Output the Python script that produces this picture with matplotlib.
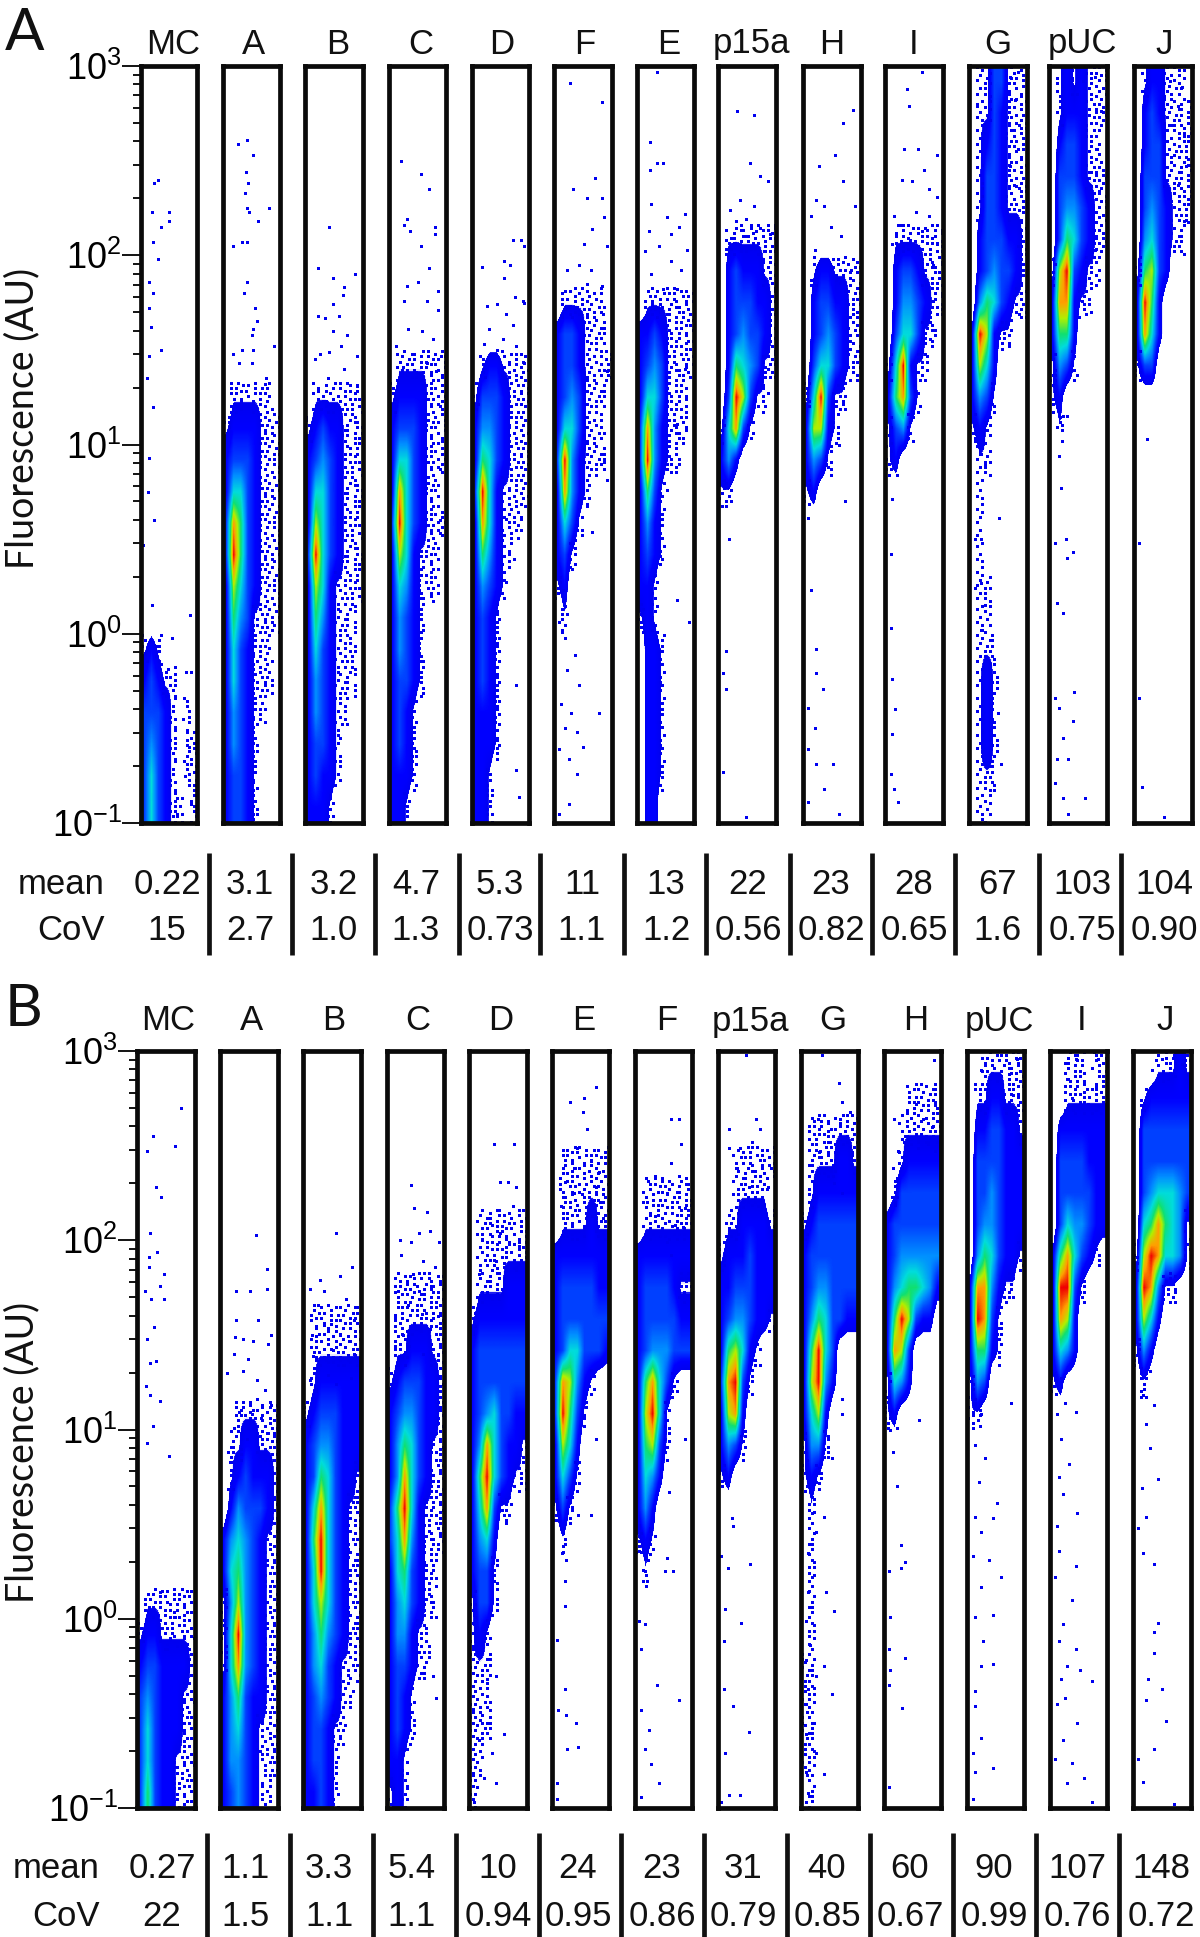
import numpy as np
import matplotlib
matplotlib.use('Agg')
import matplotlib.pyplot as plt
from matplotlib.colors import LinearSegmentedColormap

plt.rcParams['font.family'] = ['Liberation Sans', 'DejaVu Sans']
plt.rcParams['mathtext.fontset'] = 'custom'
plt.rcParams['mathtext.rm'] = 'Liberation Sans'
plt.rcParams['mathtext.default'] = 'regular'

# names and statistics under each column
labels_a = ['MC', 'A', 'B', 'C', 'D', 'F', 'E', 'p15a', 'H', 'I', 'G', 'pUC', 'J']
means_a = ['0.22', '3.1', '3.2', '4.7', '5.3', '11', '13', '22', '23', '28', '67', '103', '104']
covs_a = ['15', '2.7', '1.0', '1.3', '0.73', '1.1', '1.2', '0.56', '0.82', '0.65', '1.6', '0.75', '0.90']
labels_b = ['MC', 'A', 'B', 'C', 'D', 'E', 'F', 'p15a', 'G', 'H', 'pUC', 'I', 'J']
means_b = ['0.27', '1.1', '3.3', '5.4', '10', '24', '23', '31', '40', '60', '90', '107', '148']
covs_b = ['22', '1.5', '1.1', '1.1', '0.94', '0.95', '0.86', '0.79', '0.85', '0.67', '0.99', '0.76', '0.72']

# density read by eye: 0-9, 8 columns, rows from 10^3 down, 6 rows per decade, '-' is an empty row
# level 1 is a sparse area, drawn as stipple and not as a solid colour
dens_a = [
    "- - - - - - - - - - - - - - - - - - 12100000 23211000 33321010 34321011 35321011 35321101",
    "- - - - - - - - - - 01111110 12222111 23332111 25532111 38632111 39632111 27532111 26431111 25321110 25321110 24321100 24321000 23321000 23321000",
    "- - - - - - - - - - 01111111 12322111 23432111 25532111 27532111 39532111 27521111 26421110 25321110 24321110 24321100 23321000 23221000 22210000",
    "- - - - - - - - - 01111111 12222111 23332111 25532111 28532110 39532111 27521110 25421110 24321000 24321000 23321000 23210000 23210000 22210000 22100000",
    "- - - - - - - - - 01221111 13332111 24432111 26532111 39521111 28521110 26421100 24321000 23210000 23210000 23210000 22210000 22210000 22100000 22100000",
    "- - - - - - - 01111110 23321110 23321111 23431110 25531110 39421110 28421000 25310000 23100000 12000000 01000000",
    "- - - - - - - 01111111 22321111 23431111 25531110 38421110 39421100 26310000 24210000 23210000 22100000 12100000 02210000 02210000 02210000 02210000 02210000 02200000",
    "- - - - - 01111111 02322211 02333221 02343321 02654311 03973110 15831000 24200000 11000000",
    "- - - - - - 01221111 02332211 02343211 03553211 15931100 27721000 24310000 12000000",
    "- - - - - 01111111 02332111 02443211 03553110 15921100 26831000 13410000 12000000",
    "01133111 01132111 01232111 01332111 01332111 02333221 02343321 04653211 29721100 27520000 24310000 12100000 01100000 01000000 01000000 01000000 01100000 01100000 01110000 01210000 01210000 01210000 01110000 01100000",
    "01212111 01222111 02332110 03332111 03443211 03653211 17932110 28821100 26620000 14310000 12000000 01000000",
    "01221110 02321111 02331111 03331111 03432111 04532110 16732000 29620000 28520000 13300000",
]
dens_b = [
    "- - - - - - - - - - - - - - - - - 01111111 12211111 23322221 34322211 35322211 35322111 36322111",
    "- - - - - - - - - - - 00111111 01122111 01232221 02433321 24543211 25643211 14743211 15943211 15843211 24632211 24532111 24432111 23432110",
    "- - - - - - - - 01111111 01111111 01222222 12333222 23443222 23653221 25853211 26953211 25953211 25753211 24643211 24532111 23432110 23321100 23321000 22321000",
    "- - - - - - - 01111111 01111111 01122211 12333221 23443221 24653211 24853211 36952111 35842111 25632110 24532110 24421100 23321100 23210000 23210000 22100000 12100000",
    "- - - - - 01111111 01111111 01111222 12222222 23333333 23333333 23453322 24853221 26953211 25831100 24520000 23310000 13310000 12100000 11100000 11100000 11100000 11000000 10000000",
    "- - - 01111111 01111111 01111211 22222222 23333322 23333333 23553332 38742100 39631000 27520000 25310000 13100000 01000000",
    "- - - - 01111111 01111111 22222222 23333211 23333322 23444333 26853100 27951000 26731000 25420000 24200000 12100000 01000000",
    "- - - 00111111 00111110 01122221 12223222 22333222 23443221 26752100 38931000 27820000 24310000 12000000",
    "- - 01111111 01111221 01222222 12333333 23333333 23443333 24653322 26953000 27942000 25720000 14410000 12100000 01000000 01000000 01000000 01000000 01000000 11000000 11000000 11000000 11000000 01000000",
    "- 00011111 00111111 00122222 01333333 23333333 23444444 24566542 26973220 28730000 15420000 12000000",
    "00111111 01122111 02233221 03333222 03343222 03443222 04653221 28842110 29831000 26621000 14300000 11000000",
    "00111011 00111111 02222222 03333222 03333322 03544322 26853210 29931000 28720000 25420000 12000000",
    "00011121 01222222 03333333 03333333 03455543 05686541 17985541 29841100 27520000 14200000 01000000",
]

# isolated events: (position across the panel 0-1, log10 fluorescence)
dots_a = [
    [(.3, 2.4), (.24, 2.38), (.5, 2.23), (.19, 2.23), (.5, 2.18), (.35, 2.15), (.21, 2.07), (.3, 1.98), (.14, 1.86), (.21, 1.8), (.15, 1.72), (.18, 1.62), (.35, 1.5), (.15, 1.47), (.11, 1.35), (.21, 1.2), (.15, .93), (.12, .75), (.24, .6), (.04, .47), (.87, .1), (.19, .15), (.55, -.02), (.8, -.2), (.9, -.2), (.75, -.45), (.85, -.6), (.78, -.75), (.9, -.9), (.65, -.95)],
    [(.42, 2.61), (.27, 2.59), (.52, 2.53), (.41, 2.44), (.44, 2.38), (.38, 2.33), (.42, 2.25), (.81, 2.25), (.45, 2.23), (.62, 2.18), (.18, 2.05), (.34, 2.07), (.42, 2.07), (.42, 1.86), (.37, 1.8), (.56, 1.72), (.6, 1.65), (.53, 1.61), (.5, 1.58), (.17, 1.48), (.34, 1.5), (.53, 1.5), (.9, 1.52), (.76, 1.35), (.5, 1.43), (.28, 1.43), (.73, 1.32)],
    [(.42, 2.15), (.22, 1.93), (.87, 1.9), (.48, 1.88), (.67, 1.83), (.48, 1.74), (.66, 1.79), (.22, 1.68), (.34, 1.67), (.59, 1.68), (.73, 1.58), (.48, 1.6), (.25, 1.48), (.42, 1.49), (.62, 1.52), (.9, 1.47), (.17, 1.45), (.9, 1.31), (.67, 1.4), (.39, 1.35)],
    [(.21, 2.5), (.56, 2.43), (.71, 2.35), (.31, 2.19), (.26, 2.16), (.8, 2.15), (.37, 2.13), (.8, 2.11), (.56, 2.05), (.71, 1.93), (.31, 1.84), (.51, 1.86), (.86, 1.81), (.27, 1.76), (.66, 1.76), (.86, 1.71), (.33, 1.61), (.58, 1.6), (.78, 1.56), (.13, 1.52), (.44, 1.48), (.92, 1.47), (.66, 1.43), (.24, 1.41), (.83, 1.39), (.9, .6)],
    [(.72, 2.08), (.86, 2.08), (.92, 2.05), (.17, 1.94), (.57, 1.97), (.66, 1.95), (.57, 1.88), (.89, 1.76), (.75, 1.78), (.27, 1.73), (.44, 1.74), (.6, 1.69), (.92, 1.75), (.3, 1.61), (.72, 1.63), (.55, 1.56), (.21, 1.53), (.78, 1.52), (.44, 1.5), (.92, 1.43), (.78, -.27), (.78, -.72), (.82, -.86)],
    [(.28, 2.91), (.82, 2.81), (.33, 2.35), (.71, 2.41), (.57, 2.3), (.82, 2.3), (.87, 2.2), (.66, 2.14), (.52, 2.06), (.92, 2.05), (.43, 1.95), (.22, 1.92), (.64, 1.92), (.82, 1.84), (.36, 1.76), (.57, 1.85), (.85, 1.69), (.92, 1.39), (.87, .91), (.92, .81), (.66, .54), (.15, .23), (.08, .06), (.19, -.02), (.36, -.11), (.22, -.19), (.43, -.27), (.12, -.37), (.29, -.42), (.77, -.42), (.19, -.5), (.4, -.52), (.5, -.6), (.08, -.61), (.26, -.66), (.4, -.74), (.26, -.9), (.08, -.95)],
    [(.35, 2.97), (.23, 2.6), (.35, 2.49), (.23, 2.45), (.46, 2.49), (.25, 2.27), (.85, 2.22), (.53, 2.2), (.74, 2.15), (.21, 2.13), (.6, 2.11), (.39, 2.05), (.88, 2.03), (.14, 2.02), (.6, 1.97), (.25, 1.9), (.77, 1.92), (.46, 1.82), (.7, 1.82), (.85, 1.4), (.7, 1.11), (.53, .76), (.7, .18), (.92, .06)],
    [(.33, 2.76), (.62, 2.74), (.55, 2.49), (.73, 2.42), (.87, 2.39), (.2, 2.24), (.38, 2.29), (.62, 2.26), (.48, 2.19), (.31, 2.18), (.9, 2.11), (.66, 2.13), (.13, 2.08), (.48, 2.1), (.8, 2.02), (.87, 1.4), (.19, .5), (.13, -.09), (.08, -.21), (.13, -.29), (.08, -.73), (.48, -.97)],
    [(.86, 2.77), (.69, 2.7), (.55, 2.53), (.27, 2.47), (.69, 2.39), (.9, 2.26), (.23, 2.29), (.37, 2.26), (.13, 2.21), (.48, 2.15), (.65, 2.1), (.2, 2.03), (.83, 1.92), (.51, 1.98), (.72, 1.81), (.86, 1.69), (.62, 1), (.72, .7), (.09, .61), (.13, .23), (.23, -.08), (.23, -.21), (.34, -.29), (.08, -.39), (.2, -.5), (.09, -.61), (.51, -.69), (.23, -.69), (.37, -.82), (.09, -.89), (.62, -.95)],
    [(.64, 2.97), (.38, 2.88), (.42, 2.79), (.33, 2.56), (.57, 2.56), (.89, 2.53), (.68, 2.45), (.29, 2.4), (.47, 2.39), (.75, 2.35), (.89, 2.31), (.15, 2.21), (.54, 2.23), (.75, 2.21), (.26, 2.16), (.64, 2.13), (.12, 2.06), (.43, 2.08), (.89, 2.06), (.82, 1.95), (.71, 1.85), (.82, 1.76), (.78, 1.56), (.21, .84), (.12, .71), (.1, .42), (.1, .03), (.12, -.24), (.17, -.4), (.12, -.53), (.1, -.74), (.22, -.89), (.15, -.82)],
    [(.84, 2.97), (.7, 2.94), (.8, 2.82), (.66, 2.73), (.77, 2.66), (.14, 2.79), (.84, 2.56), (.7, 2.47), (.77, 2.37), (.87, 2.24), (.84, 2.05), (.14, .73), (.21, .95), (.28, .89), (.1, .5), (.21, .5), (.1, .24), (.21, .27), (.52, .61), (.28, .15), (.2, .02), (.5, -.42), (.56, -.69)],
    [(.59, 2.92), (.8, 2.94), (.9, 2.76), (.73, 2.63), (.83, 2.56), (.73, 2.44), (.87, 2.34), (.8, 2.03), (.24, 1.15), (.31, 1.15), (.17, .94), (.2, .77), (.1, .48), (.29, .5), (.31, .4), (.41, .43), (.13, .16), (.24, .11), (.1, -.34), (.43, -.31), (.17, -.39), (.41, -.46), (.24, -.55), (.13, -.66), (.32, -.66), (.1, -.79), (.24, -.87), (.62, -.87), (.32, -.95)],
    [(.62, 2.92), (.83, 2.89), (.76, 2.79), (.66, 2.69), (.86, 2.63), (.69, 2.53), (.9, 2.47), (.76, 2.37), (.86, 2.18), (.62, 2.05), (.23, 1.03), (.09, .48), (.09, -.34), (.13, -.81), (.52, -.97)],
]
dots_b = [
    [(.76, 2.7), (.27, 2.55), (.66, 2.5), (.17, 2.47), (.32, 2.28), (.42, 2.23), (.22, 2.04), (.35, 1.94), (.21, 1.91), (.46, 1.82), (.2, 1.86), (.39, 1.76), (.13, 1.73), (.24, 1.69), (.46, 1.69), (.29, 1.54), (.18, 1.48), (.32, 1.36), (.22, 1.35), (.16, 1.23), (.22, 1.18), (.4, 1.15), (.27, 1.02), (.18, .93), (.56, .86), (.4, .14), (.21, .06), (.66, .01)],
    [(.62, 2.03), (.81, 1.85), (.28, 1.73), (.52, 1.73), (.81, 1.74), (.28, 1.58), (.66, 1.58), (.26, 1.49), (.4, 1.48), (.57, 1.47), (.88, 1.5), (.82, 1.45), (.24, 1.4), (.49, 1.37), (.12, 1.3), (.4, 1.31), (.63, 1.26), (.77, 1.21), (.88, 1.13), (.32, 1.09), (.55, 1.08), (.71, 1.06), (.24, 1.01), (.46, .95), (.82, .98), (.18, .83)],
    [(.57, 2.04), (.29, 1.79), (.63, 1.81), (.85, 1.86), (.12, 1.74), (.37, 1.73), (.74, 1.69), (.26, 1.66), (.49, 1.56), (.88, 1.58), (.15, 1.5), (.63, 1.5), (.79, 1.47), (.37, 1.55), (.18, 1.39), (.51, 1.42), (.88, 1.4), (.29, 1.34), (.71, 1.34), (.12, 1.26), (.43, 1.29), (.82, 1.27), (.57, 1.24)],
    [(.42, 2.29), (.47, 2.17), (.7, 2.15), (.22, 2), (.56, 2.04), (.75, 2.05), (.92, 1.99), (.42, 1.99), (.25, 1.92), (.64, 1.89), (.84, 1.86), (.45, 1.82), (.2, 1.73), (.56, 1.73), (.78, 1.74), (.36, 1.66), (.14, 1.58), (.61, 1.61), (.89, 1.6), (.28, 1.5), (.5, 1.53), (.75, 1.53), (.14, 1.44), (.39, 1.44), (.89, 1.4), (.64, 1.4), (.81, -.3), (.86, -.42)],
    [(.43, 2.51), (.77, 2.51), (.53, 2.31), (.67, 2.31), (.81, 2.28), (.75, 2.18), (.39, 2.08), (.53, 2.04), (.22, 2), (.69, 1.99), (.86, 1.97), (.17, 1.82), (.47, 1.89), (.61, 1.86), (.81, 1.86), (.92, 1.86), (.31, -.32), (.47, -.3), (.61, -.61), (.39, -.71), (.17, -.64), (.25, -.84), (.47, -.87), (.14, -.89), (.08, -.97), (.36, -.48), (.22, -.55)],
    [(.77, 2.81), (.57, 2.75), (.32, 2.73), (.54, 2.68), (.61, 2.59), (.43, 2.49), (.68, 2.42), (.39, 2.38), (.82, 2.36), (.57, 2.33), (.22, 2.31), (.78, 2.28), (.39, 2.25), (.85, 2.2), (.57, 2.2), (.15, 2.18), (.71, 2.13), (.89, 2.12), (.78, .95), (.46, .55), (.68, .55), (.18, .35), (.25, .31), (.22, .2), (.22, .07), (.08, -.11), (.22, -.37), (.11, -.48), (.25, -.51), (.42, -.55), (.27, -.69), (.46, -.68), (.08, -.87), (.08, -.95)],
    [(.63, 2.64), (.77, 2.64), (.81, 2.51), (.63, 2.41), (.35, 2.34), (.77, 2.34), (.21, 2.2), (.56, 2.25), (.88, 2.17), (.35, 2.13), (.7, 2.08), (.85, 2.07), (.56, 1.99), (.63, 1.92), (.88, .95), (.6, .67), (.56, .32), (.67, .25), (.53, .25), (.18, .25), (.07, .36), (.21, .2), (.18, -.03), (.07, -.01), (.11, -.16), (.39, -.35), (.77, -.43), (.11, -.48), (.25, -.59), (.18, -.69), (.28, -.77), (.42, -.87), (.11, -.94)],
    [(.49, 2.98), (.66, 2.64), (.2, 2.59), (.73, 2.59), (.2, 2.49), (.38, 2.49), (.59, 2.52), (.87, 2.28), (.34, 2.38), (.55, 2.28), (.7, 2.18), (.45, 2.21), (.24, .53), (.27, .49), (.57, .29), (.06, .33), (.17, .27), (.13, .05), (.41, -.02), (.1, -.12), (.1, -.37), (.27, -.46), (.55, -.6), (.13, -.71), (.19, -.93), (.38, -.93), (.06, -.97)],
    [(.37, 2.98), (.66, 2.83), (.72, 2.73), (.68, 2.64), (.3, 2.64), (.86, 2.68), (.51, 2.52), (.79, 2.54), (.33, 2.47), (.61, 2.46), (.58, 2.3), (.72, 2.25), (.72, 1.16), (.72, 1.08), (.54, .85), (.26, .72), (.19, .56), (.4, .54), (.26, .46), (.12, .35), (.19, .22), (.44, .14), (.58, .04), (.12, .14), (.08, -.01), (.15, -.14), (.4, -.25), (.26, -.3), (.08, -.22), (.12, -.37), (.54, -.4), (.08, -.45), (.19, -.55), (.08, -.61), (.26, -.71), (.08, -.81), (.4, -.82), (.12, -.92), (.08, -.97)],
    [(.87, 2.95), (.57, 2.72), (.9, 2.73), (.17, 2.64), (.68, 2.64), (.85, 2.6), (.36, 2.55), (.5, 2.54), (.78, 2.52), (.25, 2.47), (.6, 2.49), (.89, 2.47), (.15, 2.38), (.62, 1.05), (.11, 1), (.22, 1.01), (.15, .88), (.22, .7), (.29, .39), (.36, .3), (.29, .27), (.08, .25), (.11, .01), (.08, -.16), (.36, -.21), (.11, -.27), (.08, -.35), (.32, -.47), (.08, -.89)],
    [(.77, 1.14), (.14, 1.14), (.25, 1.08), (.14, .92), (.32, .85), (.21, .72), (.53, .61), (.46, .53), (.14, .54), (.25, .46), (.1, .33), (.39, .31), (.6, .22), (.25, .17), (.14, .01), (.46, .02), (.28, -.12), (.46, -.24), (.14, -.38), (.25, -.25), (.14, -.46), (.25, -.63), (.1, -.71), (.46, -.79), (.14, -.81), (.1, -.95), (.88, 2.96), (.74, 2.88), (.81, 2.77), (.25, 2.9)],
    [(.45, 2.96), (.73, 2.91), (.84, 2.96), (.3, 2.85), (.59, 2.83), (.8, 2.8), (.38, 2.75), (.66, 2.72), (.2, 1.27), (.27, 1.14), (.13, 1.08), (.45, 1.09), (.2, .95), (.34, .82), (.16, .75), (.23, .66), (.48, .56), (.13, .49), (.16, .36), (.45, .28), (.09, .22), (.38, .1), (.23, -.03), (.16, -.12), (.45, -.16), (.3, -.25), (.2, -.32), (.52, -.27), (.73, -.33), (.27, -.42), (.13, -.45), (.48, -.55), (.23, -.64), (.09, -.74), (.38, -.76), (.59, -.84), (.3, -.87), (.73, -.97)],
    [(.5, 2.96), (.71, 2.98), (.85, 2.93), (.32, 2.9), (.64, 2.88), (.29, 1.31), (.18, 1.18), (.36, 1.13), (.22, 1.03), (.29, .9), (.15, .69), (.43, .74), (.22, .54), (.08, .48), (.18, .35), (.36, .29), (.43, -.02), (.36, -.07), (.37, -.18), (.25, -.32), (.5, -.37), (.22, -.43), (.57, -.54), (.36, -.69), (.08, -.74), (.18, -.86), (.71, -.98)],
]

# hand drawn stipple used to show a sparse (level 1) cell, repeats every 2 cells each way
stipple = [
    "x..x....x.....x...x.....",
    "....x.....xx.......x.x..",
    ".x.....x.......x.......x",
    "...x.......x.x.....x....",
    "x.....xx........x.....x.",
    "..x.......x..x......x...",
    ".....x.x.......x.x......",
    ".x........x.x.......x..x",
    "....x.x.......x.x.......",
    "x.........x.x.......x.x.",
    "..x.x..x.........x......",
    "........x..x..x.......x.",
    ".x..x.........x....x....",
    "......x.x..x.......x..x.",
    "x.........x....x.x......",
    "...x..x.......x......x..",
    ".x......x.x.x......x....",
    "....x.........x.x.....x.",
    "x.....x..x.........x....",
    "..x.........x.x.......x.",
    ".....x.x.x.......x..x...",
    ".x...........x.x.......x",
    "...x..x..x.........x....",
    "x.........x...x..x...x..",
]

# frame edges and text centres in pixels of the 1200x1937 figure
frames_a = [(139, 199), (221, 282), (303, 365), (387, 448), (470, 531), (552, 614), (635, 696), (716, 778), (801, 863), (883, 945), (967, 1029), (1047, 1109), (1132, 1194)]
frames_b = [(135, 197), (218, 280), (301, 363), (385, 446), (467, 529), (550, 611), (633, 694), (716, 777), (799, 860), (882, 943), (965, 1026), (1048, 1109), (1131, 1193)]
title_x_a = [173, 253, 338, 421, 502, 585, 669, 751, 832, 914, 998, 1082, 1164]
title_x_b = [168, 251, 334, 418, 501, 584, 667, 750, 833, 916, 999, 1082, 1165]
stat_x_a = [167, 250, 334, 416, 500, 582, 666, 748, 831, 914, 997, 1082, 1164]
stat_x_b = [162, 246, 329, 412, 498, 578, 662, 743, 827, 910, 994, 1077, 1161]
bars_a = [209, 292, 375, 459, 540, 624, 706, 790, 872, 955, 1039, 1121]
bars_b = [207, 290, 373, 456, 539, 621, 704, 787, 870, 953, 1036, 1119]

W, H = 1200, 1937
FS = 25

jet = LinearSegmentedColormap.from_list('density', [
    (0, '#ffffff'), (.125, '#ffffff'), (.13, '#0000f0'), (.222, '#0000ff'), (.333, '#0040ff'),
    (.444, '#0090ff'), (.556, '#00dcdc'), (.667, '#10e070'), (.778, '#b0f000'),
    (.889, '#ffa000'), (1, '#f00000')])


def parse(text):
    rows = [('0' * 8 if t == '-' else t) for t in text.split()]
    rows += ['0' * 8] * (24 - len(rows))
    return np.array([[int(c) for c in r] for r in rows], dtype=float)


def stipple_points(grid, shift):
    # fine lattice of 3x12 positions in every cell
    xs, ys = [], []
    for r in range(24):
        for c in range(8):
            if grid[r, c] != 1:
                continue
            for fr in range(12):
                for fc in range(3):
                    row = stipple[(r * 12 + fr + 5 * shift) % 24]
                    if row[(c * 3 + fc + 7 * shift) % 24] == 'x':
                        xs.append((c * 3 + fc + .5) / 24)
                        ys.append(3 - (r * 12 + fr + .5) / 72)
    return xs, ys


def put(x, y, s, size=FS, ha='center', **kw):
    fig.text(x / W, 1 - y / H, s, fontsize=size, ha=ha, va='center', **kw)


def draw_block(frames, top, bottom, dens, dots, labels, title_x, title_y, means, covs, stat_x,
               mean_y, cov_y, bars, bar_top, bar_bottom, label_right, ylabel_y, shift0):
    for i, (x0, x1) in enumerate(frames):
        ax = fig.add_axes([(x0 + 2) / W, 1 - (bottom - 2) / H, (x1 - x0 - 4) / W, (bottom - top - 4) / H])
        grid = parse(dens[i])
        ax.imshow(grid, extent=[0, 1, -1, 3], origin='upper', aspect='auto', cmap=jet,
                  vmin=0, vmax=9, interpolation='bilinear', interpolation_stage='data')
        sx, sy = stipple_points(grid, i + shift0)
        ax.plot(sx, sy, 's', ms=2.16, mew=0, color='#0000f0')
        px, py = zip(*dots[i])
        ax.plot(px, py, 's', ms=2.16, mew=0, color='#0000f0')
        ax.set_xlim(0, 1)
        ax.set_ylim(-1, 3)
        ax.set_xticks([])
        for sp in ax.spines.values():
            sp.set_linewidth(3.4)
            sp.set_color('#0a0a0a')
        if i == 0:
            ax.set_yticks([-1, 0, 1, 2, 3])
            ax.set_yticklabels(['$10^{-1}$', '$10^{0}$', '$10^{1}$', '$10^{2}$', '$10^{3}$'], fontsize=26)
            ax.set_yticks([d + np.log10(m) for d in range(-1, 3) for m in range(2, 10)], minor=True)
            ax.tick_params(axis='y', which='major', length=14, width=1.3, pad=0)
            ax.tick_params(axis='y', which='minor', length=6, width=1.3)
        else:
            ax.set_yticks([])
        put(title_x[i], title_y, labels[i], color='#111111')
        put(stat_x[i], mean_y, means[i], color='#111111')
        put(stat_x[i], cov_y, covs[i], color='#111111')
    for b in bars:
        fig.add_artist(plt.Line2D([b / W, b / W], [1 - bar_top / H, 1 - bar_bottom / H], color='#111111', lw=3.4,
                                  solid_capstyle='butt'))
    put(label_right, mean_y, 'mean', ha='right', color='#111111')
    put(label_right, cov_y, 'CoV', ha='right', color='#111111')
    put(22, ylabel_y, 'Fluorescence (AU)', size=27, rotation=90, family='Lato', color='#111111')


fig = plt.figure(figsize=(W / 100, H / 100), dpi=100)
draw_block(frames_a, 64, 825, dens_a, dots_a, labels_a, title_x_a, 44, means_a, covs_a, stat_x_a,
           884, 931, bars_a, 853, 955, 105, 418, 0)
draw_block(frames_b, 1049, 1810, dens_b, dots_b, labels_b, title_x_b, 1021, means_b, covs_b, stat_x_b,
           1869, 1916, bars_b, 1833, 1937, 100, 1452, 13)
put(25, 34, 'A', size=42, family='Lato', color='#111111')
put(24, 1010, 'B', size=42, family='Lato', color='#111111')
fig.savefig('out.png', dpi=100)
